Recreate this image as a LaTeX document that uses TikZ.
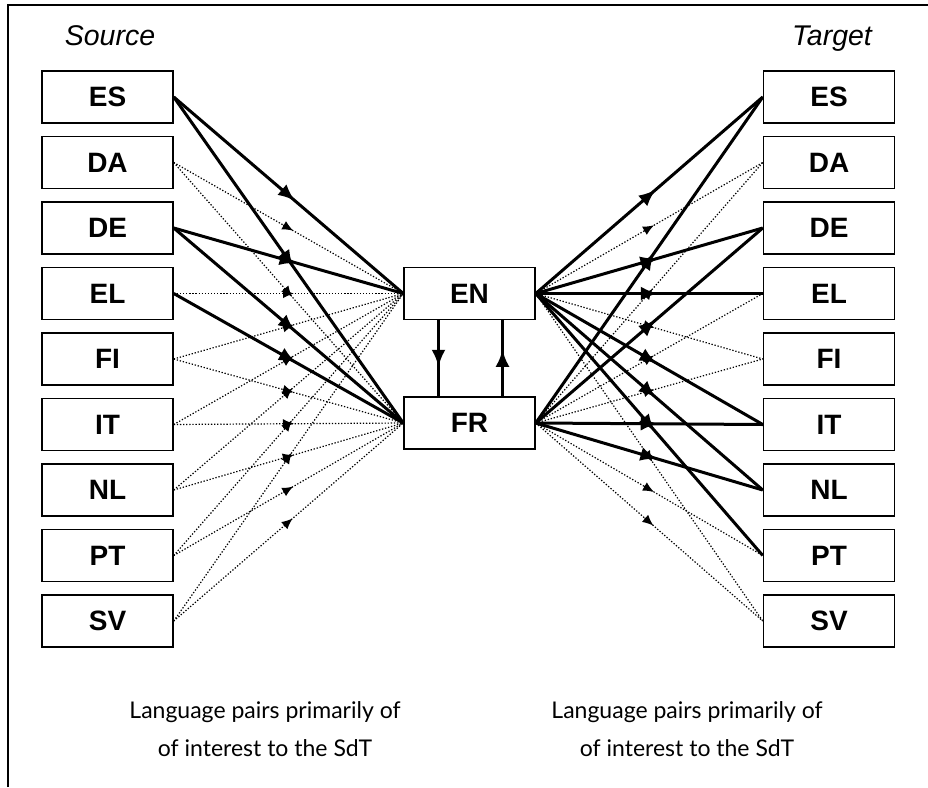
\documentclass[tikz,border=0pt]{standalone}
\usepackage{fontspec}
\setmainfont{Liberation Sans}
\newfontfamily\notefont{Lato}
\usetikzlibrary{arrows.meta,calc}

\tikzset{
  lang/.style={draw,line width=1.5pt,fill=white,minimum width=131pt,minimum height=52pt,
    inner sep=0pt,font=\fontsize{28}{28}\selectfont\bfseries},
  strong/.style={line width=3pt},
  strongtip/.style={line width=3pt,-{Latex[length=17pt 0 0,width=14pt 0 0]}},
  weak/.style={dash pattern=on 1.3pt off 1.8pt,line width=1.2pt},
  weaktip/.style={line width=1.2pt,-{Latex[length=11pt 0 0,width=9.5pt 0 0]}},
  note/.style={align=center,font=\notefont\fontsize{23}{38}\selectfont},
  title/.style={anchor=base,font=\fontsize{28.5}{28.5}\selectfont\itshape},
}
% connector with its arrow head half way
\newcommand{\strongpair}[2]{%
  \draw[strong] (#1)--(#2);
  \draw[strongtip] ($(#1)!0.5!(#2)!-9pt!(#2)$)--($(#1)!0.5!(#2)!8.5pt!(#2)$);}
\newcommand{\weakpair}[2]{%
  \draw[weak] (#1)--(#2);
  \draw[weaktip] ($(#1)!0.5!(#2)!-6pt!(#2)$)--($(#1)!0.5!(#2)!5.5pt!(#2)$);}

\begin{document}
\begin{tikzpicture}[x=1pt,y=-1pt]
\useasboundingbox (0,0) rectangle (928,787);
\draw[line width=1.2pt] (8,787)--(8,5)--(928,5);
%
\node[title] (src) at (110,45) {Source};
\node[title] (tgt) at (832,45) {Target};
%
\foreach \l [count=\i from 0] in {ES,DA,DE,EL,FI,IT,NL,PT,SV}{
  \node[lang] (s\l) at (107.5,97+65.5*\i) {\l};
  \node[lang] (t\l) at (829,97+65.5*\i) {\l};
}
\node[lang] (EN) at (469.5,293.5) {EN};
\node[lang] (FR) at (469.5,423) {FR};
%
\foreach \s in {DA,EL,FI,IT,NL,PT,SV} {\weakpair{s\s.east}{EN.west}}
\foreach \s in {DA,FI,IT,NL,PT,SV} {\weakpair{s\s.east}{FR.west}}
\foreach \t in {DA,FI,SV} {\weakpair{EN.east}{t\t.west}}
\foreach \t in {DA,EL,FI,PT,SV} {\weakpair{FR.east}{t\t.west}}
%
\foreach \s in {ES,DE} {\strongpair{s\s.east}{EN.west}}
\foreach \s in {ES,DE,EL} {\strongpair{s\s.east}{FR.west}}
\foreach \t in {ES,DE,EL,IT,NL,PT} {\strongpair{EN.east}{t\t.west}}
\foreach \t in {ES,DE,IT,NL} {\strongpair{FR.east}{t\t.west}}
%
\coordinate (downA) at ([xshift=-31pt]EN.south);
\coordinate (downB) at ([xshift=-31pt]FR.north);
\coordinate (upA) at ([xshift=33pt]FR.north);
\coordinate (upB) at ([xshift=33pt]EN.south);
\strongpair{downA}{downB}
\strongpair{upA}{upB}
%
\node[note] (noteL) at (265,729) {Language pairs primarily of\\of interest to the SdT};
\node[note] (noteR) at (687,729) {Language pairs primarily of\\of interest to the SdT};
\end{tikzpicture}
\end{document}
